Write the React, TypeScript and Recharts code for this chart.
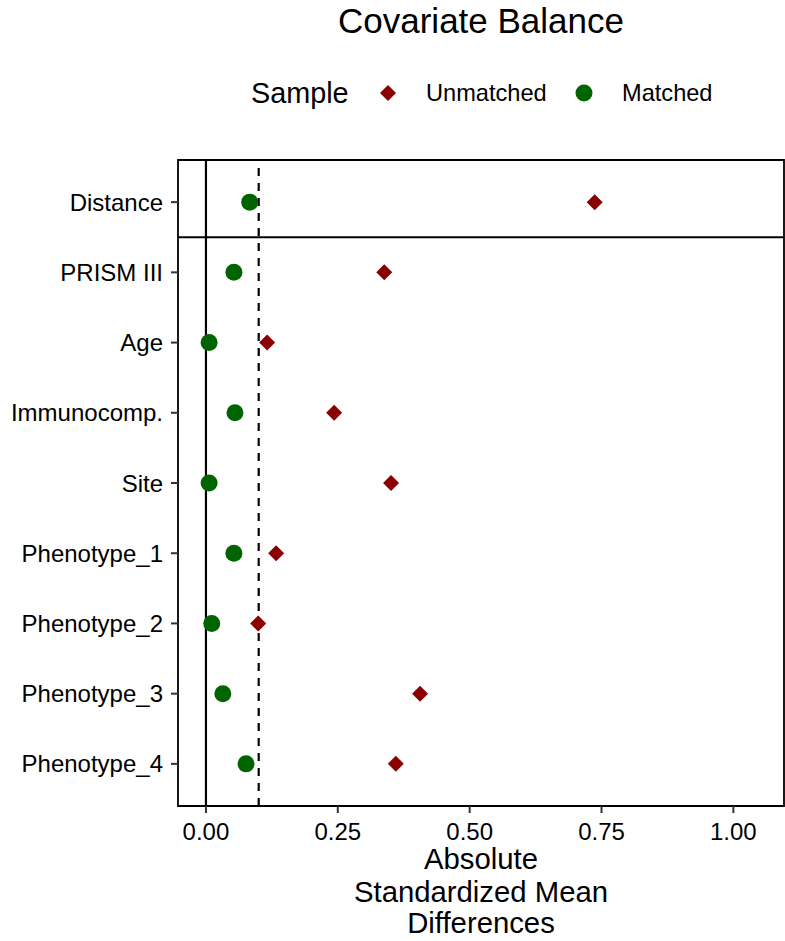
import { ScatterChart, Scatter, XAxis, YAxis, ReferenceLine, ReferenceArea } from 'recharts';

const covariates = [
  'Distance',
  'PRISM III',
  'Age',
  'Immunocomp.',
  'Site',
  'Phenotype_1',
  'Phenotype_2',
  'Phenotype_3',
  'Phenotype_4',
];

const unmatchedValues = [0.737, 0.338, 0.116, 0.243, 0.351, 0.133, 0.099, 0.406, 0.36];
const matchedValues = [0.083, 0.053, 0.006, 0.055, 0.006, 0.053, 0.011, 0.032, 0.076];

const xTicks = [0, 0.25, 0.5, 0.75, 1];
const xDomain: [number, number] = [-0.053, 1.096];
const yDomain: [number, number] = [0.4, 9.6];

const RED = '#8B0000';
const GREEN = '#006400';
const FONT = '"Liberation Sans", Arial, sans-serif';

// top row (Distance) gets the highest y position
const yPos = (i: number) => covariates.length - i;

const unmatchedData = covariates.map((name, i) => ({ name, x: unmatchedValues[i], y: yPos(i) }));
const matchedData = covariates.map((name, i) => ({ name, x: matchedValues[i], y: yPos(i) }));
const yTicks = covariates.map((_, i) => yPos(i));

const Diamond = (props: any) => {
  const { cx, cy } = props;
  const h = 8;
  return <polygon points={`${cx},${cy - h} ${cx + h},${cy} ${cx},${cy + h} ${cx - h},${cy}`} fill={RED} />;
};

const Dot = (props: any) => {
  const { cx, cy } = props;
  return <circle cx={cx} cy={cy} r={8.5} fill={GREEN} />;
};

export default function App() {
  return (
    <div style={{ position: 'absolute', left: 0, top: 0, width: 785, height: 941, background: '#fff' }}>
      <svg width={785} height={941} style={{ position: 'absolute', left: 0, top: 0 }} fontFamily={FONT}>
        <text x={481} y={33} textAnchor="middle" fontSize={35} fill="#000">
          Covariate Balance
        </text>
        <text x={251} y={103} fontSize={28.8} fill="#000">Sample</text>
        <polygon points="388,85 396,93 388,101 380,93" fill={RED} />
        <text x={426} y={101} fontSize={23.6} fill="#000">Unmatched</text>
        <circle cx={584} cy={93} r={8.5} fill={GREEN} />
        <text x={622} y={101} fontSize={23.6} fill="#000">Matched</text>
        <g fontSize={29.3} fill="#000" textAnchor="middle">
          <text x={481} y={869}>Absolute</text>
          <text x={481} y={902}>Standardized Mean</text>
          <text x={481} y={933}>Differences</text>
        </g>
      </svg>
      <div style={{ position: 'absolute', left: 0, top: 0 }}>
        <ScatterChart width={785} height={941} margin={{ top: 160, right: 1, bottom: 0, left: 0 }}>
          <XAxis
            type="number"
            dataKey="x"
            domain={xDomain}
            ticks={xTicks}
            allowDataOverflow
            tickFormatter={(v: number) => v.toFixed(2)}
            height={135}
            tickSize={7}
            tickMargin={10}
            axisLine={false}
            tickLine={{ stroke: '#333', strokeWidth: 2 }}
            tick={{ fill: '#000', fontSize: 24, fontFamily: FONT }}
          />
          <YAxis
            type="number"
            dataKey="y"
            domain={yDomain}
            ticks={yTicks}
            allowDataOverflow
            tickFormatter={(v: number) => covariates[covariates.length - v]}
            width={178}
            tickSize={7}
            tickMargin={8}
            axisLine={false}
            tickLine={{ stroke: '#333', strokeWidth: 2 }}
            tick={{ fill: '#000', fontSize: 24, fontFamily: FONT }}
            interval={0}
          />
          <ReferenceArea
            x1={xDomain[0]}
            x2={xDomain[1]}
            y1={yDomain[0]}
            y2={yDomain[1]}
            fill="none"
            stroke="#000"
            strokeWidth={1.8}
            ifOverflow="visible"
          />
          <ReferenceLine x={0} stroke="#000" strokeWidth={2.2} />
          <ReferenceLine x={0.1} stroke="#000" strokeWidth={2.2} strokeDasharray="8 7" />
          <ReferenceLine y={8.5} stroke="#000" strokeWidth={2.2} />
          <Scatter data={unmatchedData} shape={Diamond} isAnimationActive={false} />
          <Scatter data={matchedData} shape={Dot} isAnimationActive={false} />
        </ScatterChart>
      </div>
    </div>
  );
}
